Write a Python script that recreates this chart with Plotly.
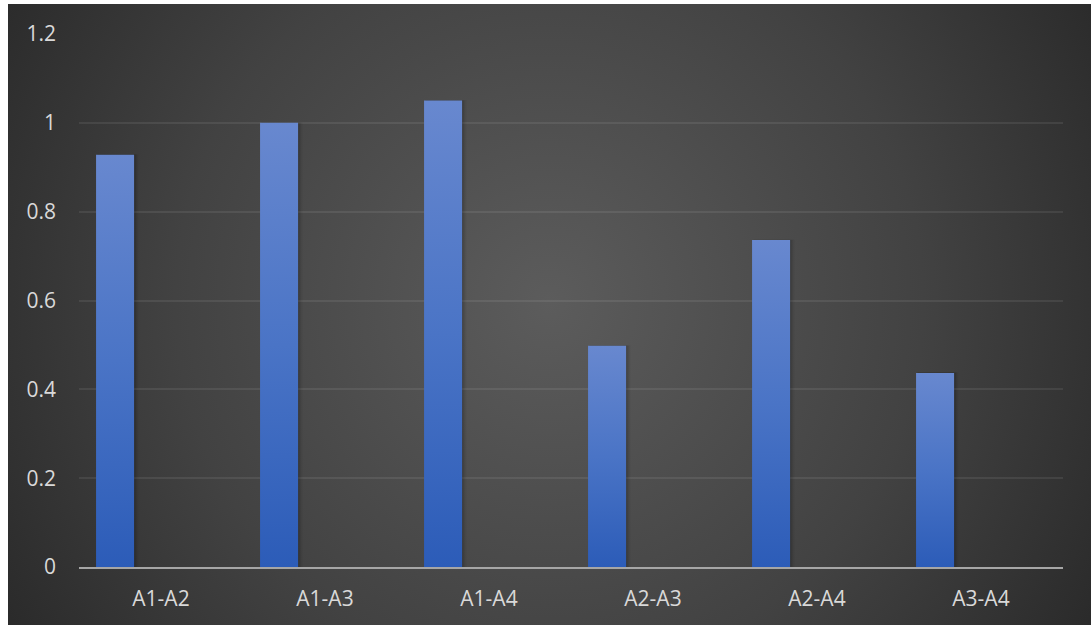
import base64
import plotly.graph_objects as go

# Pairwise comparison values
categories = ["A1-A2", "A1-A3", "A1-A4", "A2-A3", "A2-A4", "A3-A4"]
values = [0.928, 1.0, 1.05, 0.498, 0.736, 0.437]
y_ticks = [0, 0.2, 0.4, 0.6, 0.8, 1.0, 1.2]
y_tick_labels = ["0", "0.2", "0.4", "0.6", "0.8", "1", "1.2"]

W, H = 1091, 625
M_L, M_R, M_T, M_B = 79, 28, 34, 58
BG_X0, BG_Y0 = 8, 4          # thin white strip on left/top edges

BAR_OFFSET = -0.396          # left edge of bar relative to category centre
BAR_WIDTH = 0.232
TEXT = "#d9d9d9"
FONT = "Open Sans"

# radial dark background as an SVG gradient
bw, bh = W - BG_X0, H - BG_Y0
svg = f"""<svg xmlns='http://www.w3.org/2000/svg' width='{bw}' height='{bh}'>
<defs><radialGradient id='g' gradientUnits='userSpaceOnUse' cx='{bw*0.5}' cy='{bh*0.48}' r='680'>
<stop offset='0' stop-color='#5c5c5c'/><stop offset='0.55' stop-color='#424242'/>
<stop offset='1' stop-color='#262626'/></radialGradient></defs>
<rect width='{bw}' height='{bh}' fill='url(#g)'/></svg>"""
bg_uri = "data:image/svg+xml;base64," + base64.b64encode(svg.encode()).decode()

plot_w = W - M_L - M_R
plot_h = H - M_T - M_B

fig = go.Figure()

# soft shadows mostly on the right side of each bar
shadow_layers = [(0.026, 0.010, 0.05), (0.016, 0.007, 0.07), (0.008, 0.004, 0.10)]
for i, v in enumerate(values):
    for grow, shift, alpha in shadow_layers:
        x0 = i + BAR_OFFSET + shift
        x1 = i + BAR_OFFSET + BAR_WIDTH + grow
        top = v + grow * 0.05
        fig.add_trace(go.Scatter(
            x=[x0, x0, x1, x1, x0], y=[0, top, top, 0, 0],
            mode="none", fill="toself", fillcolor=f"rgba(0,0,0,{alpha})",
            hoverinfo="skip", showlegend=False))

# bars with a vertical blue gradient
for i, (c, v) in enumerate(zip(categories, values)):
    x0 = i + BAR_OFFSET
    x1 = x0 + BAR_WIDTH
    fig.add_trace(go.Scatter(
        x=[x0, x0, x1, x1, x0], y=[0, v, v, 0, 0],
        mode="none", fill="toself",
        fillgradient=dict(type="vertical",
                          colorscale=[[0, "#2c5cb8"], [0.5, "#4a74c6"], [1, "#6888cf"]]),
        name=c, hovertemplate=f"{c}: {v}<extra></extra>", showlegend=False))

fig.update_layout(
    width=W, height=H,
    margin=dict(l=M_L, r=M_R, t=M_T, b=M_B),
    paper_bgcolor="white",
    plot_bgcolor="rgba(0,0,0,0)",
    font=dict(family=FONT, size=21, color=TEXT),
    images=[dict(
        source=bg_uri, xref="paper", yref="paper",
        x=(BG_X0 - M_L) / plot_w, y=(H - M_B - BG_Y0) / plot_h,
        sizex=bw / plot_w, sizey=bh / plot_h,
        xanchor="left", yanchor="top", sizing="stretch", layer="below")],
    xaxis=dict(
        range=[-0.5, len(categories) - 0.5],
        tickmode="array", tickvals=list(range(len(categories))), ticktext=categories,
        showgrid=False, zeroline=False,
        showline=True, linecolor="#a6a6a6", linewidth=2,
        ticks="", ticklabelstandoff=12,
        tickfont=dict(family=FONT, size=21, color=TEXT)),
    yaxis=dict(
        range=[0, 1.2],
        tickmode="array", tickvals=y_ticks, ticktext=y_tick_labels,
        showgrid=True, gridcolor="rgba(255,255,255,0.08)", gridwidth=2,
        zeroline=False, showline=False, ticks="", ticklabelstandoff=22,
        tickfont=dict(family=FONT, size=21, color=TEXT)),
)

fig.write_html("out.html")
